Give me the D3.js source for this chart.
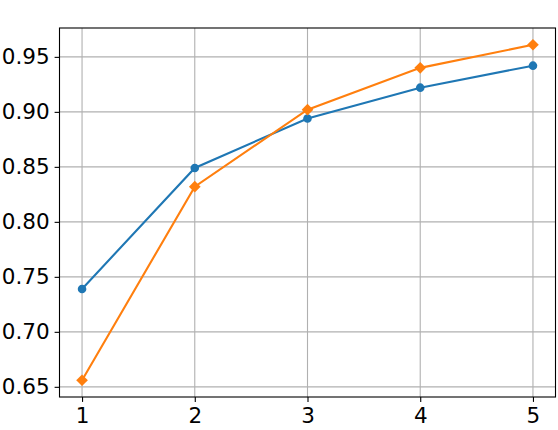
<!DOCTYPE html>
<html>
<head>
<meta charset="utf-8">
<script src="https://cdn.jsdelivr.net/npm/d3@7"></script>
<style>
  body { margin: 0; background: #fff; }
  svg text { font-family: "DejaVu Sans", sans-serif; }
</style>
</head>
<body>
<div id="chart"></div>
<script>
// values
var xValues = [1, 2, 3, 4, 5];
var blueValues = [0.739, 0.849, 0.894, 0.922, 0.942];
var orangeValues = [0.656, 0.832, 0.902, 0.940, 0.961];
var xTicks = [1, 2, 3, 4, 5];
var yTicks = [0.65, 0.70, 0.75, 0.80, 0.85, 0.90, 0.95];

var W = 558, H = 430;
var margin = {top: 28, right: 2.5, bottom: 33, left: 59.5};
var width = W - margin.left - margin.right,
    height = H - margin.top - margin.bottom;

var svg = d3.select("#chart").append("svg")
    .attr("width", W).attr("height", H);
var g = svg.append("g")
    .attr("transform", "translate(" + margin.left + "," + margin.top + ")");

// matplotlib style 5% margins
var yMin = d3.min(orangeValues.concat(blueValues)), yMax = d3.max(orangeValues.concat(blueValues));
var yPad = (yMax - yMin) * 0.05;
var x = d3.scaleLinear().domain([0.8, 5.2]).range([0, width]);
var y = d3.scaleLinear().domain([yMin - yPad, yMax + yPad]).range([height, 0]);

// grid
g.append("g").selectAll("line").data(xTicks).enter().append("line")
    .attr("x1", d => x(d)).attr("x2", d => x(d))
    .attr("y1", 0).attr("y2", height)
    .attr("stroke", "#b0b0b0").attr("stroke-width", 1.1);
g.append("g").selectAll("line").data(yTicks).enter().append("line")
    .attr("y1", d => y(d)).attr("y2", d => y(d))
    .attr("x1", 0).attr("x2", width)
    .attr("stroke", "#b0b0b0").attr("stroke-width", 1.1);

// axes
var xAxis = g.append("g")
    .attr("transform", "translate(0," + height + ")")
    .call(d3.axisBottom(x).tickValues(xTicks).tickFormat(d3.format("d")).tickSize(4.9).tickPadding(4.9));
var yAxis = g.append("g")
    .call(d3.axisLeft(y).tickValues(yTicks).tickFormat(d3.format(".2f")).tickSize(4.9).tickPadding(4.9));
[xAxis, yAxis].forEach(function(a){
    a.select(".domain").remove();
    a.selectAll(".tick line").attr("stroke", "#000").attr("stroke-width", 1.1);
    a.selectAll(".tick text").attr("fill", "#000").style("font-size", "21.5px");
});
xAxis.selectAll(".tick text").attr("dy", "0.76em");

// frame
g.append("rect").attr("x", 0).attr("y", 0).attr("width", width).attr("height", height)
    .attr("fill", "none").attr("stroke", "#000").attr("stroke-width", 1.1);

var line = d3.line().x((d, i) => x(xValues[i])).y(d => y(d));

// blue series, circles
g.append("path").datum(blueValues).attr("d", line)
    .attr("fill", "none").attr("stroke", "#1f77b4").attr("stroke-width", 2.1);
g.append("g").selectAll("circle").data(blueValues).enter().append("circle")
    .attr("cx", (d, i) => x(xValues[i])).attr("cy", d => y(d)).attr("r", 4.3)
    .attr("fill", "#1f77b4");

// orange series, diamonds
g.append("path").datum(orangeValues).attr("d", line)
    .attr("fill", "none").attr("stroke", "#ff7f0e").attr("stroke-width", 2.1);
var diamond = d3.symbol().type(d3.symbolDiamond2).size(87);
g.append("g").selectAll("path").data(orangeValues).enter().append("path")
    .attr("d", diamond)
    .attr("transform", (d, i) => "translate(" + x(xValues[i]) + "," + y(d) + ")")
    .attr("fill", "#ff7f0e");
</script>
</body>
</html>
